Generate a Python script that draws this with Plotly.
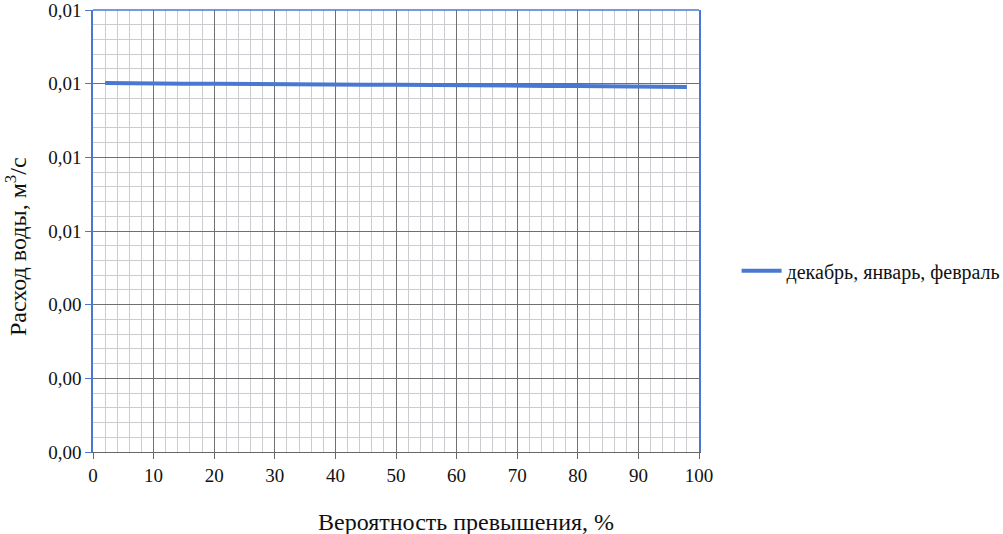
import plotly.graph_objects as go

prob = [2, 5, 10, 15, 20, 25, 30, 35, 40, 45, 50, 55, 60, 65, 70, 75, 80, 85, 90, 95, 98]
flow = [0.01002, 0.01001, 0.01001, 0.01000, 0.01000, 0.00999, 0.00999, 0.00998, 0.00998, 0.00997,
        0.00997, 0.00996, 0.00996, 0.00995, 0.00995, 0.00994, 0.00994, 0.00993, 0.00993, 0.00992, 0.00991]
series_name = "декабрь, январь, февраль"
y_tickvals = [0, 0.002, 0.004, 0.006, 0.008, 0.010, 0.012]
y_ticktext = ["0,00", "0,00", "0,00", "0,01", "0,01", "0,01", "0,01"]
x_tickvals = [0, 10, 20, 30, 40, 50, 60, 70, 80, 90, 100]

BLUE = "#4a78d0"
FONT = "Liberation Serif"

fig = go.Figure()
fig.add_trace(go.Scatter(x=prob, y=flow, mode="lines", name=series_name,
                         line=dict(color=BLUE, width=4)))

fig.update_layout(
    width=1003, height=534,
    margin=dict(l=93, r=304, t=10, b=82, autoexpand=False),
    paper_bgcolor="white", plot_bgcolor="white",
    font=dict(family=FONT, size=19, color="#111"),
    showlegend=True,
    legend=dict(x=1.062, y=0.41, xanchor="left", yanchor="middle",
                font=dict(family=FONT, size=20, color="#111"),
                bgcolor="rgba(0,0,0,0)", itemwidth=40),
    xaxis=dict(range=[0, 100], tickvals=x_tickvals, ticks="outside", ticklen=6,
               tickcolor="#666", showline=True, linecolor="#666", linewidth=1,
               showgrid=True, gridcolor="#707070", gridwidth=1,
               minor=dict(dtick=2, showgrid=True, gridcolor="#cbcbd0", gridwidth=1),
               zeroline=False, tickfont=dict(size=19), automargin=False,
               ticklabeloverflow="allow"),
    yaxis=dict(range=[0, 0.012], tickvals=y_tickvals, ticktext=y_ticktext,
               ticks="outside", ticklen=6, tickcolor=BLUE,
               showline=True, linecolor=BLUE, linewidth=1.5, mirror=True,
               showgrid=True, gridcolor="#707070", gridwidth=1,
               minor=dict(dtick=0.0004, showgrid=True, gridcolor="#cbcbd0", gridwidth=1),
               zeroline=False, tickfont=dict(size=19), automargin=False,
               ticklabeloverflow="allow"),
    shapes=[dict(type="line", xref="paper", yref="paper", x0=0, x1=1, y0=1, y1=1,
                 line=dict(color=BLUE, width=1.5))],
    annotations=[
        dict(text="Вероятность превышения, %", xref="paper", yref="paper",
             x=0.616, y=-0.125, xanchor="center", yanchor="top", showarrow=False,
             font=dict(family=FONT, size=24, color="#111")),
        dict(text="Расход воды, м<sup>3</sup>/с", xref="paper", yref="paper",
             x=-0.126, y=0.465, xanchor="center", yanchor="middle",
             textangle=-90, showarrow=False,
             font=dict(family=FONT, size=24, color="#111")),
    ],
)

fig.write_html("out.html", config={"displayModeBar": False},
               post_script="document.body.style.margin='0';")
